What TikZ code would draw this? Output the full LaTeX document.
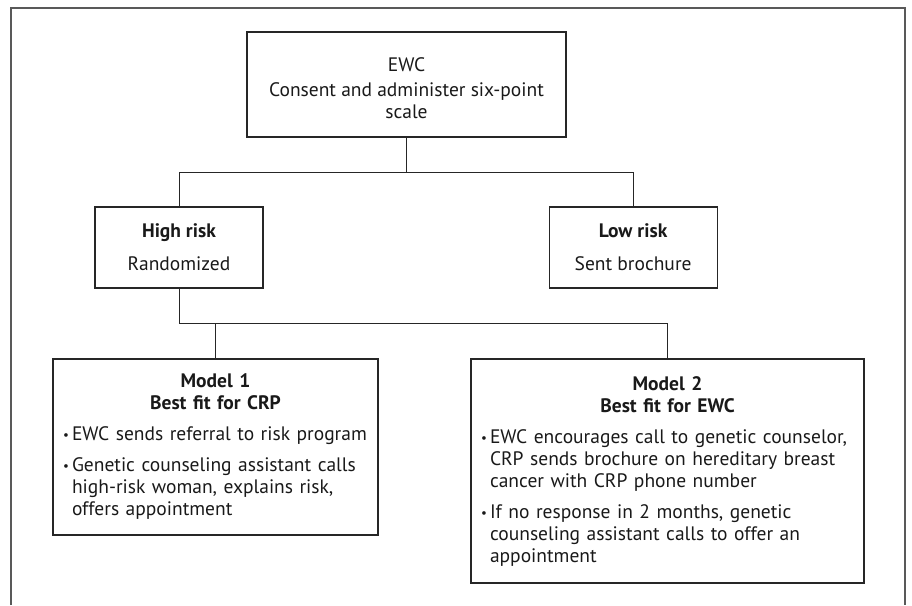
\documentclass[tikz,border=0pt]{standalone}
\usepackage{fontspec}
\setmainfont{PT Sans}
\usetikzlibrary{positioning}

% bullet paragraph, continuation lines indented by \bnl
\newcommand{\bpoint}[1]{\par\vspace{9pt}\noindent\makebox[9pt][l]{\raisebox{1pt}{\fontsize{13}{13}\selectfont\textbullet}}#1}
\newcommand{\bnl}{\\\hspace*{9pt}}

\begin{document}
\begin{tikzpicture}[
    x=1pt, y=-1pt,
    font=\fontsize{19.5}{22}\selectfont,
    text=black!90,
    box/.style={rectangle, draw=black!85, line width=1.1pt, inner xsep=10pt, inner ysep=0pt, align=center},
    model/.style={box, align=left},
    link/.style={draw=black!85, line width=1pt},
    frame/.style={draw=black!65, line width=1.4pt}
]
\useasboundingbox (0,0) rectangle (912,605);

% Outer frame (open at the bottom)
\draw[frame] (11,605) -- (11,8) -- (905,8) -- (905,605);

% 1. Screening (Top)
\node[box, minimum width=319pt, minimum height=105pt] (ewc) at (406.5,84.5)
    {\rule{0pt}{22pt}EWC\\[3pt]Consent and administer six-point\\scale};

% 2. Risk groups
\node[box, minimum width=168pt, minimum height=81pt] (high) at (179,247.5)
    {\textbf{High risk}\\[11pt]Randomized};
\node[box, minimum width=168pt, minimum height=81pt, right=285pt of high] (low)
    {\textbf{Low risk}\\[11pt]Sent brochure};

% 3. Models (Bottom)
\node[model, minimum width=325pt, minimum height=176pt, text width=305pt] (model1) at (215.5,447)
    {{\centering\bfseries Model 1\\Best fit for CRP\par}
     \bpoint{EWC sends referral to risk program}
     \bpoint{Genetic counseling assistant calls\bnl high-risk woman, explains risk,\bnl offers appointment}};
\node[model, minimum width=393pt, minimum height=224pt, text width=373pt] (model2) at (667.5,471)
    {{\centering\bfseries Model 2\\Best fit for EWC\par}
     \bpoint{EWC encourages call to genetic counselor,\bnl CRP sends brochure on hereditary breast\bnl cancer with CRP phone number}
     \bpoint{If no response in 2 months, genetic\bnl counseling assistant calls to offer an\bnl appointment}};

% Forks
\coordinate (fork1) at (0,172);
\coordinate (fork2) at (0,323);

% Paths
\draw[link] (ewc.south) -- (ewc.south |- fork1);
\draw[link] (high.north) -- (high.north |- fork1) -- (low.north |- fork1) -- (low.north);

\draw[link] (high.south) -- (high.south |- fork2) -- (model2.north |- fork2) -- (model2.north);
\draw[link] (model1.north) -- (model1.north |- fork2);

\end{tikzpicture}
\end{document}
